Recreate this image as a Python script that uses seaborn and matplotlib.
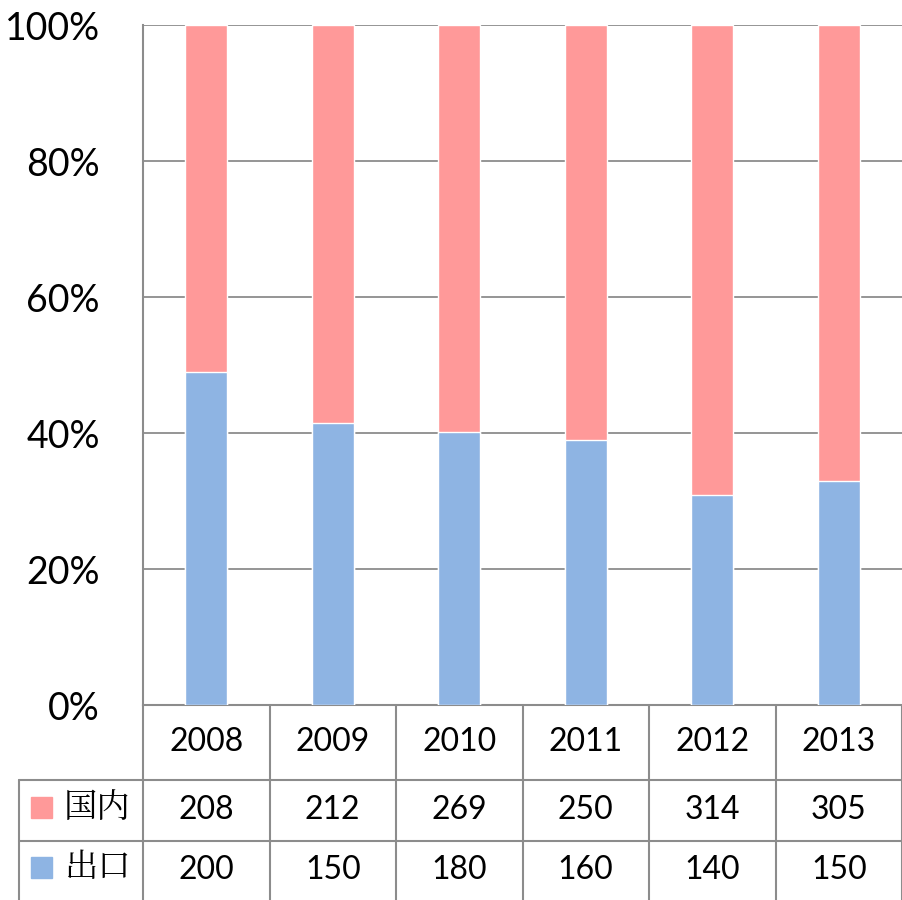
import matplotlib
matplotlib.use("Agg")
import matplotlib.pyplot as plt
import seaborn as sns
import pandas as pd
import numpy as np
from matplotlib.lines import Line2D
from matplotlib.patches import Rectangle

years = ["2008", "2009", "2010", "2011", "2012", "2013"]
domestic = [208, 212, 269, 250, 314, 305]   # 国内
export = [200, 150, 180, 160, 140, 150]     # 出口
series_names = ["国内", "出口"]
yticks = [0, 20, 40, 60, 80, 100]

pink = "#FF9999"
blue = "#8EB4E3"
gray = "#8C8C8C"

sns.set_theme(style="white")
plt.rcParams['font.family'] = ['Lato', 'Noto Sans CJK SC', 'DejaVu Sans']
plt.rcParams['text.color'] = 'black'
plt.rcParams['ytick.color'] = 'black'
plt.rcParams['ytick.labelcolor'] = 'black'

df = pd.DataFrame({"year": years, "domestic": domestic, "export": export})
df["total_pct"] = 100.0
df["export_pct"] = df["export"] / (df["export"] + df["domestic"]) * 100

W, H = 902, 900
fig = plt.figure(figsize=(W / 100, H / 100), dpi=100)
ax_left, ax_right, ax_top, ax_bot = 143, 902, 25, 705
ax = fig.add_axes([ax_left / W, 1 - ax_bot / H, (ax_right - ax_left) / W, (ax_bot - ax_top) / H])

sns.barplot(data=df, x="year", y="total_pct", color=pink, width=0.33, ax=ax, saturation=1, zorder=3)
sns.barplot(data=df, x="year", y="export_pct", color=blue, width=0.33, ax=ax, saturation=1, zorder=3)

ax.set_xlim(-0.5, 5.5)
ax.set_ylim(0, 100)
ax.set_yticks(yticks)
ax.set_yticklabels([f"{v}%" for v in yticks], fontsize=27, color="black")
ax.set_xticks([])
ax.set_xlabel("")
ax.set_ylabel("")
ax.tick_params(axis="y", length=0, pad=31)
ax.grid(axis="y", color=gray, linewidth=1.3, zorder=0)
ax.set_axisbelow(True)
for s in ["top", "right"]:
    ax.spines[s].set_visible(False)
for s in ["left", "bottom"]:
    ax.spines[s].set_color(gray)
    ax.spines[s].set_linewidth(1.5)

# Data table drawn below the axes, in figure pixel coordinates
def fx(px):
    return px / W

def fy(py):
    return 1 - py / H

col_w = (ax_right - ax_left) / len(years)
lw = 1.5
# vertical lines
for i in range(len(years) + 1):
    x = ax_left + i * col_w
    fig.add_artist(Line2D([fx(x), fx(x)], [fy(705), fy(900)], color=gray, lw=lw))
fig.add_artist(Line2D([fx(19), fx(19)], [fy(780), fy(900)], color=gray, lw=lw))
# horizontal lines
for py in [780, 841]:
    fig.add_artist(Line2D([fx(19), fx(ax_right)], [fy(py), fy(py)], color=gray, lw=lw))

# header row
for i, y in enumerate(years):
    cx = ax_left + (i + 0.5) * col_w
    fig.text(fx(cx), fy(742), y, ha="center", va="center", fontsize=23, color="black")

rows = [(series_names[0], domestic, pink, 810), (series_names[1], export, blue, 870)]
for name, vals, col, cy in rows:
    fig.add_artist(Rectangle((fx(31), fy(cy + 8)), 21 / W, 21 / H, color=col, transform=fig.transFigure))
    fig.text(fx(97), fy(cy - 2), name, ha="center", va="center", fontsize=24, color="black",
             family=['Noto Serif CJK SC', 'Noto Sans CJK SC', 'DejaVu Sans'])
    for i, v in enumerate(vals):
        cx = ax_left + (i + 0.5) * col_w
        fig.text(fx(cx), fy(cy), str(v), ha="center", va="center", fontsize=23, color="black")

fig.savefig("out.png", dpi=100)
